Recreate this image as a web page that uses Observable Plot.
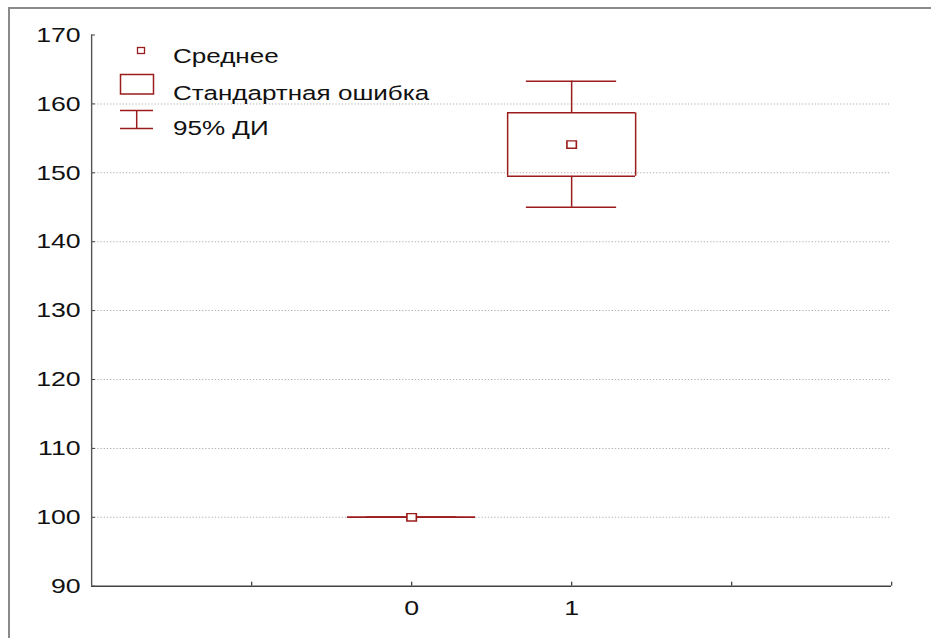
<!DOCTYPE html>
<html><head><meta charset="utf-8">
<script src="https://cdn.jsdelivr.net/npm/d3@7"></script>
<script src="https://cdn.jsdelivr.net/npm/@observablehq/plot@0.6"></script>
<style>
html,body{margin:0;padding:0;background:#fff;overflow:hidden;}
#wrap{position:relative;width:931px;height:638px;overflow:hidden;}
#frame{position:absolute;left:8px;top:7px;width:2000px;height:2000px;border-top:2px solid #8a8a8a;border-left:2px solid #8a8a8a;}
#chart{position:absolute;left:0;top:0;}
#chart svg{display:block;}
#legend{position:absolute;left:0;top:0;}
</style></head><body>
<div id="wrap"><div id="frame"></div><div id="chart"></div><svg id="legend" width="931" height="160"></svg></div>
<script>
// ---- data ----
const groups = [0, 1];
const means  = [100, 154.1];
const seLow  = [100, 149.5];
const seHigh = [100, 158.7];
const ciLow  = [100, 145.0];
const ciHigh = [100, 163.3];
const xTickValues = [-1, 0, 1, 2, 3];
const xTickLabels = [0, 1];
const yTickValues = [90, 100, 110, 120, 130, 140, 150, 160, 170];
const gridValues = [100, 110, 120, 130, 140, 150, 160];
const legendLabels = ["Среднее", "Стандартная ошибка", "95% ДИ"];

// ---- layout ----
const S = 1.27;            // horizontal stretch seen in the reference image
const W = 931, H = 638;
const innerW = W / S;
const mL = 91 / S, mR = 40 / S, mT = 34.5, mB = 52.3;
const plotW = innerW - mL - mR, plotH = H - mT - mB;
const red = "#9b1c1c";
const font = "'Liberation Sans', Arial, sans-serif";

const data = groups.map((g, i) => ({g, mean: means[i], seLow: seLow[i], seHigh: seHigh[i], ciLow: ciLow[i], ciHigh: ciHigh[i]}));
const boxHalf = 0.4, capHalf = 0.282;

const chart = Plot.plot({
  width: innerW, height: H,
  marginLeft: mL, marginRight: mR, marginTop: mT, marginBottom: mB,
  style: {fontFamily: font, fontSize: "21px", color: "#111", background: "transparent", overflow: "visible"},
  x: {domain: [-2, 3], label: null},
  y: {domain: [90, 170], label: null},
  marks: [
    Plot.ruleY(gridValues, {stroke: "#b0b0b0", strokeDasharray: "1,1.5", strokeWidth: 1}),
    Plot.axisY({ticks: yTickValues, tickSize: 0, tickPadding: 11 / S, tickFormat: d => String(d), fill: "#111", label: null}),
    Plot.tickY(yTickValues, {y: d => d, insetRight: plotW - 4 / S, stroke: "#444"}),
    Plot.axisX({ticks: xTickLabels, tickSize: 0, tickPadding: 14, tickFormat: d => String(d), fill: "#111", label: null}),
    Plot.tickX(xTickValues, {x: d => d, insetTop: plotH - 4, stroke: "#444", strokeWidth: 1.3 / S}),
    Plot.ruleY([90], {stroke: "#444", strokeWidth: 1.5}),
    Plot.ruleX([-2], {stroke: "#555", strokeWidth: 1.4 / S}),
    // whiskers
    Plot.ruleX(data, {x: "g", y1: "seHigh", y2: "ciHigh", stroke: red, strokeWidth: 1.5 / S}),
    Plot.ruleX(data, {x: "g", y1: "ciLow", y2: "seLow", stroke: red, strokeWidth: 1.5 / S}),
    Plot.ruleY(data, {y: "ciHigh", x1: d => d.g - capHalf, x2: d => d.g + capHalf, stroke: red, strokeWidth: 1.5}),
    Plot.ruleY(data, {y: "ciLow", x1: d => d.g - capHalf, x2: d => d.g + capHalf, stroke: red, strokeWidth: 1.5}),
    // standard-error box (edges as rules so a zero-height box still shows)
    Plot.ruleY(data, {y: "seHigh", x1: d => d.g - boxHalf, x2: d => d.g + boxHalf, stroke: red, strokeWidth: 1.5}),
    Plot.ruleY(data, {y: "seLow", x1: d => d.g - boxHalf, x2: d => d.g + boxHalf, stroke: red, strokeWidth: 1.5}),
    Plot.ruleX(data, {x: d => d.g - boxHalf, y1: "seLow", y2: "seHigh", stroke: red, strokeWidth: 1.5 / S}),
    Plot.ruleX(data, {x: d => d.g + boxHalf, y1: "seLow", y2: "seHigh", stroke: red, strokeWidth: 1.5 / S}),
    // mean
    Plot.dot(data, {x: "g", y: "mean", symbol: "square", r: 4.2, fill: "white", stroke: red, strokeWidth: 1.3})
  ]
});
chart.setAttribute("width", W);
chart.setAttribute("height", H);
chart.setAttribute("preserveAspectRatio", "none");
chart.style.width = W + "px";
chart.style.height = H + "px";
chart.style.maxWidth = "none";
document.getElementById("chart").appendChild(chart);

// ---- legend (drawn inside the plot area, top left) ----
const ns = "http://www.w3.org/2000/svg";
const lg = document.getElementById("legend");
function el(tag, attrs) { const e = document.createElementNS(ns, tag); for (const k in attrs) e.setAttribute(k, attrs[k]); lg.appendChild(e); return e; }
const baselines = [63, 99.5, 135];
el("rect", {x: 137.5, y: 47.5, width: 7, height: 6, fill: "white", stroke: red, "stroke-width": 1.3});
el("rect", {x: 120.5, y: 74.5, width: 33, height: 19.5, fill: "none", stroke: red, "stroke-width": 1.5});
el("line", {x1: 120, x2: 153, y1: 110.5, y2: 110.5, stroke: red, "stroke-width": 1.5});
el("line", {x1: 120, x2: 153, y1: 128.5, y2: 128.5, stroke: red, "stroke-width": 1.5});
el("line", {x1: 136.7, x2: 136.7, y1: 110.5, y2: 128.5, stroke: red, "stroke-width": 1.5});
legendLabels.forEach((t, i) => {
  const tx = el("text", {transform: `translate(173,${baselines[i]}) scale(${S},1)`, "font-family": font, "font-size": 20.5, fill: "#111"});
  tx.textContent = t;
});
</script>
</body></html>
